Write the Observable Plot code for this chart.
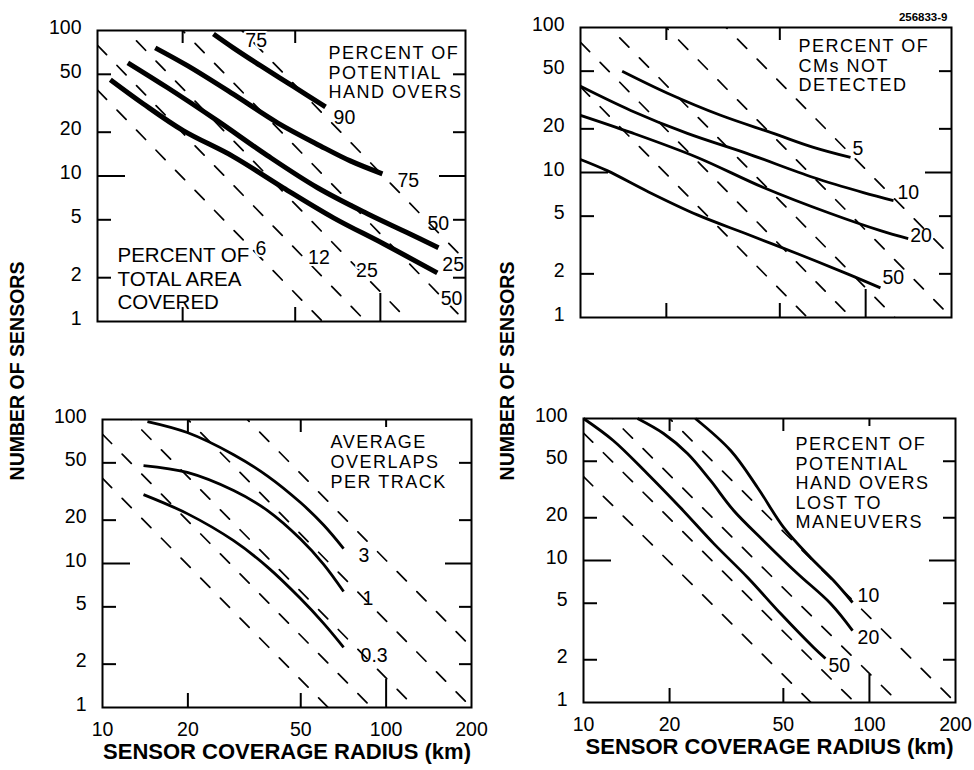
<!DOCTYPE html>
<html>
<head>
<meta charset="utf-8">
<script src="https://cdn.jsdelivr.net/npm/d3@7"></script>
<script src="https://cdn.jsdelivr.net/npm/@observablehq/plot@0.6"></script>
<style>
  body { margin: 0; background: #fff; }
  #chart { position: relative; width: 974px; height: 770px; background: #fff; overflow: hidden;
           font-family: "Liberation Sans", Arial, Helvetica, sans-serif; color: #000; }
  .ylab { position: absolute; font-weight: bold; font-size: 19.5px; white-space: nowrap;
          transform: translate(-50%, -50%) rotate(-90deg); }
  g[font-family*="Helvetica Neue"] text, text[font-family*="Helvetica Neue"] { letter-spacing: 1.5px; }
</style>
</head>
<body>
<div id="chart"></div>
<script>
// ---------------- data ----------------
const xTicks = [10, 20, 50, 100, 200];
const yTicks = [1, 2, 5, 10, 20, 50, 100];

// dashed iso-lines: percent of total area covered, constant N * r^2 (km^2)
const coverageLevels = ["6", "12", "25", "50", "75"];
const coverageNR2 = [3900, 7900, 16000, 40000, 105000];
// sensor count (N) at which each coverage label sits in the top-left panel
const coverageLabelN = [3.16, 2.74, 2.23, 1.43, 84.6];

// top-left: percent of potential hand overs
const handoverLevels = ["90", "75", "50", "25"];
const handoverR = [
  [25.7, 30.2, 37.7, 49.4, 64.0],
  [16.0, 20.8, 30.2, 43.3, 61.4, 78.3, 101.7],
  [12.8, 17.7, 26.5, 39.9, 60.0, 90.0, 124.7, 160.5],
  [11.1, 14.5, 20.1, 30.2, 45.4, 68.3, 102.6, 159]
];
const handoverN = [
  [94.6, 76, 57.3, 41.1, 29.9],
  [76, 57.3, 36.5, 23.2, 16.1, 12.7, 10.35],
  [60, 40.4, 24.0, 13.8, 8.3, 5.5, 4.07, 3.21],
  [45.9, 31.4, 20.5, 13.6, 8.3, 5.16, 3.42, 2.16]
];

// top-right: percent of CMs not detected
const cmLevels = ["5", "10", "20", "50"];
const cmR = [
  [14.0, 20.2, 31.0, 47.5, 65.6, 88.5],
  [10, 15.0, 23.7, 38.5, 65.6, 98.2, 125.2],
  [10, 15.0, 25.7, 43.8, 75.3, 112.7, 141],
  [10, 12.4, 17.2, 25.7, 38.5, 57.7, 86.3, 112.7]
];
const cmN = [
  [49.9, 35.2, 24.8, 18.6, 14.9, 12.7],
  [39.3, 26.8, 18.6, 13.5, 9.23, 7.27, 6.4],
  [24.8, 18.9, 12.7, 7.88, 5.21, 3.97, 3.5],
  [12.3, 10.3, 7.4, 5.1, 3.75, 2.75, 2.0, 1.60]
];

// bottom-left: average overlaps per track
const overlapLevels = ["3", "1", "0.3"];
const overlapR = [
  [14.4, 19.9, 29.0, 38.2, 49.9, 60.2, 70.8],
  [13.95, 19.9, 29.0, 38.2, 49.9, 60.2, 70.8],
  [13.95, 19.9, 29.0, 38.2, 49.9, 60.2, 70.8]
];
const overlapN = [
  [96.8, 81.2, 57.0, 40.5, 26.5, 18.5, 12.7],
  [47.9, 42.9, 32.1, 23.3, 14.8, 9.87, 6.39],
  [30.1, 22.2, 14.4, 9.44, 5.71, 3.84, 2.62]
];

// bottom-right: percent of potential hand overs lost to maneuvers
const maneuverLevels = ["10", "20", "50"];
const maneuverR = [
  [24.6, 32.7, 40.6, 50.1, 62.2, 74.9, 87.3],
  [15.45, 19.05, 23.1, 27.8, 33.5, 42.6, 56.0, 73.1, 87.3],
  [10, 12.7, 16.7, 21.8, 28.5, 37.5, 48.9, 63.8, 70.2]
];
const maneuverN = [
  [100, 59.5, 32.7, 17.1, 10.5, 7.23, 5.06],
  [100, 78.4, 56.7, 36.6, 22.5, 13.8, 8.1, 4.98, 3.21],
  [100, 70.0, 41.0, 23.6, 13.2, 7.59, 4.23, 2.44, 2.04]
];

// ---------------- helpers ----------------
const FONT = '"Liberation Sans", Arial, Helvetica, sans-serif';
const NOTE_FONT = '"Liberation Sans", Arial, "Helvetica Neue", sans-serif';
const container = document.getElementById("chart");

function rowsOf(levels, R, N) {
  return levels.flatMap((level, i) => R[i].map((r, j) => ({level, r, n: N[i][j]})));
}
function coverageRows(count) {
  return coverageLevels.slice(0, count).flatMap((level, i) =>
    [10, 200].map(r => ({level, r, n: coverageNR2[i] / (r * r)})));
}
function endPoints(levels, R, N) {
  return levels.map((level, i) => ({level, r: R[i][R[i].length - 1], n: N[i][N[i].length - 1]}));
}

function axes(xLabels, topShort) {
  const tk = {stroke: "black", strokeWidth: 2, fill: "none", label: null};
  const m = [
    Plot.axisY(yTicks, {anchor: "left", tickSize: 0, tickPadding: 16, dy: -3, fontSize: 19.5, text: d => `${d}`, label: null}),
    Plot.axisY([2, 5, 20, 50], {anchor: "left", tickSize: 14, dx: 14, ...tk}),
    Plot.axisY([10], {anchor: "left", tickSize: 28, dx: 28, ...tk}),
    Plot.axisY([2, 5, 20, 50], {anchor: "right", tickSize: 13, dx: -13, ...tk}),
    Plot.axisY([10], {anchor: "right", tickSize: 27, dx: -27, ...tk}),
    Plot.axisX([20, 50], {anchor: "bottom", tickSize: 14, dy: -14, ...tk}),
    Plot.axisX([100], {anchor: "bottom", tickSize: 28, dy: -28, ...tk}),
    Plot.axisX([20, 50], {anchor: "top", tickSize: 12, dy: 12, ...tk})
  ];
  if (topShort) m.push(Plot.axisX([100], {anchor: "top", tickSize: 7, dy: 7, ...tk}));
  if (xLabels) {
    m.push(Plot.axisX(xTicks, {anchor: "bottom", tickSize: 0, tickPadding: 15, fontSize: 19.5, text: d => `${d}`, label: null}));
    m.push(Plot.text(["SENSOR COVERAGE RADIUS (km)"], {frameAnchor: "bottom", dy: 36, lineAnchor: "top", fontWeight: "bold", fontSize: 22}));
  }
  return m;
}

function curveMarks(rows, width) {
  return Plot.line(rows, {x: "r", y: "n", z: "level", stroke: "black", strokeWidth: width, curve: "catmull-rom", strokeLinecap: "butt"});
}
function endLabel(pt, dx, dy) {
  return Plot.text([pt], {x: "r", y: "n", text: "level", textAnchor: "start", dx, dy, fontSize: 19.5});
}
function note(text, dx, dy, spacing) {
  const fs = 18;
  return Plot.text([text], {frameAnchor: "top-right", textAnchor: "start", lineAnchor: "top", dx, dy,
    lineHeight: Math.max(1.085, spacing / fs), fontSize: fs, fontFamily: NOTE_FONT});
}

function panel({left, top, width, height, mL, mR, mT, mB, marks}) {
  const svg = Plot.plot({
    width, height, marginLeft: mL, marginRight: mR, marginTop: mT, marginBottom: mB,
    x: {type: "log", domain: [10, 200], label: null},
    y: {type: "log", domain: [1, 100], label: null},
    style: {fontFamily: FONT, fontSize: "19px", color: "black", background: "transparent", overflow: "visible"},
    marks
  });
  svg.style.position = "absolute";
  svg.style.left = left + "px";
  svg.style.top = top + "px";
  container.append(svg);
}

const dashed = count => Plot.line(coverageRows(count), {x: "r", y: "n", z: "level", stroke: "black", strokeWidth: 1.7, strokeDasharray: "13,15", clip: true});
const frame = Plot.frame({stroke: "black", strokeWidth: 2});

// ---------------- top-left ----------------
{
  const ends = endPoints(handoverLevels, handoverR, handoverN);
  const offs = [[8, 11], [15, 7], [-11, -24], [5, -8]];
  const covLabelOffs = [9, 15, 7, 8, 4];
  const covLabels = coverageLevels.map((level, i) => ({level, n: coverageLabelN[i], r: Math.sqrt(coverageNR2[i] / coverageLabelN[i])}));
  panel({
    left: 0, top: 0, width: 480, height: 335, mL: 97, mR: 15, mT: 30, mB: 14,
    marks: [
      dashed(5),
      curveMarks(rowsOf(handoverLevels, handoverR, handoverN), 5),
      frame,
      ...axes(false, false),
      ...ends.map((p, i) => endLabel(p, offs[i][0], offs[i][1])),
      ...covLabels.map((p, i) => Plot.text([p], {x: "r", y: "n", text: "level", textAnchor: "middle", dx: covLabelOffs[i], fontSize: 19.5, stroke: "white", strokeWidth: 4, fill: "black"})),
      note("PERCENT OF\nPOTENTIAL\nHAND OVERS", -137, 15, 19.5),
      Plot.text(["PERCENT OF\nTOTAL AREA\nCOVERED"], {frameAnchor: "top-left", textAnchor: "start", lineAnchor: "top", dx: 20, dy: 215, lineHeight: 1.15, fontSize: 20.5})
    ]
  });
}

// ---------------- top-right ----------------
{
  const ends = endPoints(cmLevels, cmR, cmN);
  const offs = [[2, -9], [4, -8], [2, -3], [2, -10]];
  panel({
    left: 487, top: 0, width: 480, height: 335, mL: 93, mR: 16, mT: 27, mB: 18,
    marks: [
      dashed(5),
      curveMarks(rowsOf(cmLevels, cmR, cmN), 2.8),
      frame,
      ...axes(false, false),
      ...ends.map((p, i) => endLabel(p, offs[i][0], offs[i][1])),
      note("PERCENT OF\nCMs NOT\nDETECTED", -153, 11, 19.5),
      Plot.text(["256833-9"], {frameAnchor: "top-right", textAnchor: "end", lineAnchor: "top", dx: -4, dy: -15, fontSize: 11.5, fontWeight: "bold"})
    ]
  });
}

// ---------------- bottom-left ----------------
{
  const ends = endPoints(overlapLevels, overlapR, overlapN);
  const offs = [[15, 7], [19, 7], [17, 8]];
  panel({
    left: 0, top: 400, width: 480, height: 370, mL: 102, mR: 9, mT: 19, mB: 63,
    marks: [
      dashed(5),
      curveMarks(rowsOf(overlapLevels, overlapR, overlapN), 2.8),
      frame,
      ...axes(true, true),
      ...ends.map((p, i) => endLabel(p, offs[i][0], offs[i][1])),
      note("AVERAGE\nOVERLAPS\nPER TRACK", -141, 14, 20)
    ]
  });
}

// ---------------- bottom-right ----------------
{
  const ends = endPoints(maneuverLevels, maneuverR, maneuverN);
  const offs = [[5, -7], [5, 7], [3, 7]];
  panel({
    left: 487, top: 400, width: 480, height: 370, mL: 96, mR: 12, mT: 18, mB: 68,
    marks: [
      dashed(4),
      curveMarks(rowsOf(maneuverLevels, maneuverR, maneuverN), 2.8),
      frame,
      ...axes(true, true),
      ...ends.map((p, i) => endLabel(p, offs[i][0], offs[i][1])),
      note("PERCENT OF\nPOTENTIAL\nHAND OVERS\nLOST TO\nMANEUVERS", -160, 18, 19.5)
    ]
  });
}

// y-axis titles
for (const x of [17, 507]) {
  const d = document.createElement("div");
  d.className = "ylab";
  d.textContent = "NUMBER OF SENSORS";
  d.style.left = x + "px";
  d.style.top = "371px";
  container.append(d);
}
</script>
</body>
</html>
